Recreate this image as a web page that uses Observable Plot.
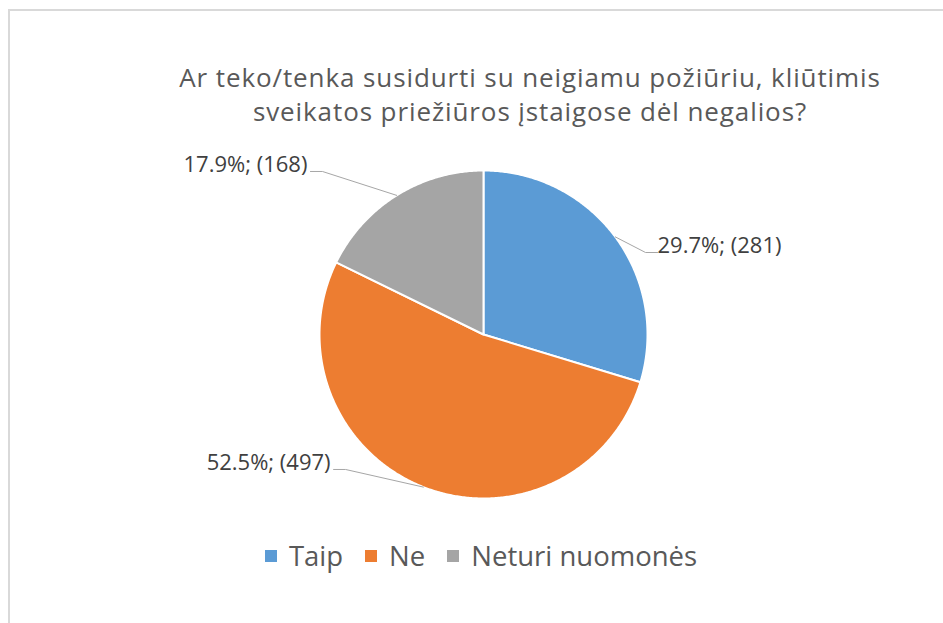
<!DOCTYPE html>
<html>
<head>
<meta charset="utf-8">
<script src="https://cdn.jsdelivr.net/npm/d3@7"></script>
<script src="https://cdn.jsdelivr.net/npm/@observablehq/plot@0.6"></script>
<style>
  body { margin: 0; background: #fff; font-family: "Open Sans", sans-serif; }
  #wrap { position: relative; width: 943px; height: 623px; overflow: hidden; }
  #frame { position: absolute; left: 8px; top: 9px; width: 960px; height: 640px;
           border-left: 2px solid #d9d9d9; border-top: 2px solid #d9d9d9; pointer-events: none; }
  #chart { position: absolute; left: 0; top: 0; }
  #legend { position: absolute; left: 0; top: 537px; width: 943px; box-sizing: border-box;
            padding-left: 19px; display: flex; justify-content: center; align-items: center;
            font-family: "Open Sans", sans-serif; font-size: 27.5px; color: #595959; }
  .item { display: flex; align-items: center; margin: 0 11px; }
  .sw { width: 12px; height: 12px; margin-right: 12px; }
</style>
</head>
<body>
<div id="wrap">
  <div id="chart"></div>
  <div id="legend"></div>
  <div id="frame"></div>
</div>
<script>
// ---- data ----
const categories = ["Taip", "Ne", "Neturi nuomonės"];
const counts = [281, 497, 168];
const percents = [29.7, 52.5, 17.9];
const title = "Ar teko/tenka susidurti su neigiamu požiūriu, kliūtimis\nsveikatos priežiūros įstaigose dėl negalios?";

// ---- style / layout ----
const colors = ["#5B9BD5", "#ED7D31", "#A5A5A5"];
const W = 943, H = 623;
const cx = 483, cy = 334, R = 164;
// label elbow positions in pie-radius units (x right, y up) and text side
const elbows = [[0.988, 0.5], [-0.841, -0.823], [-0.982, 0.994]];
const sides = ["right", "left", "left"];
const tail = 12 / R;

const arcs = d3.pie().sort(null).value(d => d)(counts);

// slice polygons
const slicePts = [];
arcs.forEach((a, i) => {
  const name = categories[i];
  slicePts.push({name, x: 0, y: 0});
  const n = Math.max(2, Math.ceil((a.endAngle - a.startAngle) / (Math.PI / 360)));
  for (let k = 0; k <= n; k++) {
    const t = a.startAngle + (a.endAngle - a.startAngle) * k / n;
    slicePts.push({name, x: Math.sin(t), y: Math.cos(t)});
  }
});

// leader lines and labels
const leaderPts = [];
const labels = [];
arcs.forEach((a, i) => {
  const name = categories[i];
  const m = (a.startAngle + a.endAngle) / 2;
  const [ex, ey] = elbows[i];
  const dir = sides[i] === "right" ? 1 : -1;
  leaderPts.push({name, x: Math.sin(m), y: Math.cos(m)});
  leaderPts.push({name, x: ex, y: ey});
  leaderPts.push({name, x: ex + dir * tail, y: ey});
  labels.push({
    name,
    x: ex + dir * tail,
    y: ey,
    anchor: sides[i] === "right" ? "start" : "end",
    text: `${percents[i].toFixed(1)}%; (${counts[i]})`
  });
});

const labelMark = (side) => Plot.text(labels.filter(d => d.anchor === side), {
  x: "x", y: "y", text: "text", textAnchor: side, dx: side === "start" ? 0 : -3, dy: -7,
  fontSize: 22, fill: "#404040", fontFamily: "Open Sans"
});

const chart = Plot.plot({
  width: W, height: H,
  margin: 0,
  x: {domain: [-1, 1], range: [cx - R, cx + R], axis: null},
  y: {domain: [-1, 1], range: [cy + R, cy - R], axis: null},
  color: {domain: categories, range: colors},
  style: {background: "transparent", fontFamily: "Open Sans"},
  marks: [
    Plot.line(slicePts, {x: "x", y: "y", z: "name", fill: "name", stroke: "white", strokeWidth: 2, curve: "linear-closed"}),
    Plot.line(leaderPts, {x: "x", y: "y", z: "name", stroke: "#a6a6a6", strokeWidth: 1}),
    labelMark("start"),
    labelMark("end"),
    Plot.text([title], {frameAnchor: "top", dx: 58, dy: 93, lineAnchor: "middle", lineHeight: 34 / 26,
      fontSize: 26, fill: "#595959", fontFamily: "Open Sans"})
  ]
});
// slight letter spacing on the title to match the reference width
const groups = chart.querySelectorAll('g[aria-label="text"]');
groups[groups.length - 1].setAttribute("letter-spacing", "0.9");
document.getElementById("chart").appendChild(chart);

const legend = document.getElementById("legend");
categories.forEach((c, i) => {
  const it = document.createElement("div");
  it.className = "item";
  const sw = document.createElement("span");
  sw.className = "sw";
  sw.style.background = colors[i];
  const tx = document.createElement("span");
  tx.textContent = c;
  it.appendChild(sw); it.appendChild(tx);
  legend.appendChild(it);
});
</script>
</body>
</html>
